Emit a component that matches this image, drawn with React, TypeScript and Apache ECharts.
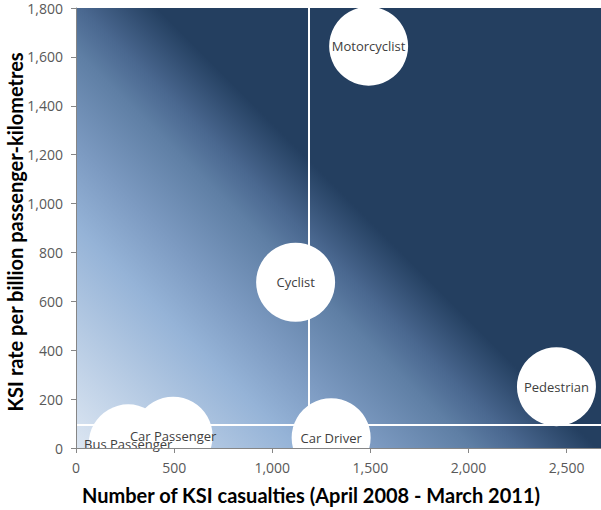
import React, { useEffect, useRef } from "react";
import * as echarts from "echarts";

// Road user groups: casualties (x) vs KSI rate (y)
const groups = ["Bus Passenger", "Car Passenger", "Car Driver", "Cyclist", "Motorcyclist", "Pedestrian"];
const casualties = [266, 495, 1300, 1119, 1491, 2448];
const ksiRate = [17, 48, 42, 678, 1644, 251];

// Quadrant dividers
const dividerX = 1185;
const dividerY = 94;

const xMin = 0;
const xMax = 2675;
const xStep = 500;
const xTicks = [0, 500, 1000, 1500, 2000, 2500];
const yMin = 0;
const yMax = 1800;
const yStep = 200;

const xTitle = "Number of KSI casualties (April 2008 - March 2011)";
const yTitle = "KSI rate per billion passenger-kilometres";

const TITLE_FONT = "Lato, 'Open Sans', sans-serif";
const FONT = "'Open Sans', Lato, sans-serif";

// plot rectangle in page pixels
const PLOT = { left: 76, top: 8, right: 601, bottom: 448 };

export default function App() {
  const ref = useRef<HTMLDivElement>(null);

  useEffect(() => {
    if (!ref.current) return;
    const chart = echarts.init(ref.current, undefined, { renderer: "svg" });
    const fmt = (v: number) => v.toLocaleString("en-US");

    // diagonal fill running at 45° from the bottom-left to the top-right corner
    const w = PLOT.right - PLOT.left;
    const h = PLOT.bottom - PLOT.top;
    const reach = (w + h) / 2;
    const bg = new echarts.graphic.LinearGradient(
      PLOT.left,
      PLOT.bottom,
      PLOT.left + reach,
      PLOT.bottom - reach,
      [
        { offset: 0, color: "#dce6f2" },
        { offset: 0.23, color: "#95b3d7" },
        { offset: 0.31, color: "#7d9bc2" },
        { offset: 0.41, color: "#5f7fa5" },
        { offset: 0.46, color: "#4a6890" },
        { offset: 0.54, color: "#243f60" },
        { offset: 1, color: "#243f60" },
      ],
      true
    );

    const titleStyle = {
      fontSize: 20,
      fontWeight: "bold",
      fill: "#000000",
      fontFamily: TITLE_FONT,
      textAlign: "center",
      textVerticalAlign: "middle",
    };

    chart.setOption({
      animation: false,
      textStyle: { fontFamily: FONT },
      grid: {
        left: PLOT.left,
        top: PLOT.top,
        right: 601 - PLOT.right,
        bottom: 510 - PLOT.bottom,
        outerBoundsMode: "none",
        containLabel: false,
        show: true,
        borderWidth: 0,
        backgroundColor: bg,
      },
      graphic: [
        { type: "text", x: 311, y: 495, style: { ...titleStyle, text: xTitle } },
        { type: "text", x: 15, y: 232, rotation: Math.PI / 2, style: { ...titleStyle, text: yTitle } },
      ],
      xAxis: {
        type: "value",
        z: 10,
        min: xMin,
        max: xMax,
        interval: xStep,
        axisLine: { show: true, lineStyle: { color: "#868686", width: 1 } },
        axisTick: { show: true, length: 5, customValues: xTicks, lineStyle: { color: "#868686" } },
        axisLabel: {
          customValues: xTicks,
          hideOverlap: false,
          margin: 12,
          fontSize: 14,
          color: "#595959",
          fontFamily: FONT,
          formatter: fmt,
        },
        splitLine: { show: false },
      },
      yAxis: {
        type: "value",
        z: 10,
        min: yMin,
        max: yMax,
        interval: yStep,
        axisLine: { show: true, lineStyle: { color: "#868686", width: 1 } },
        axisTick: { show: true, length: 5, lineStyle: { color: "#868686" } },
        axisLabel: {
          hideOverlap: false,
          margin: 13,
          fontSize: 14,
          color: "#595959",
          fontFamily: FONT,
          formatter: fmt,
        },
        splitLine: { show: false },
      },
      series: [
        {
          type: "scatter",
          symbol: "circle",
          symbolSize: 79,
          clip: true,
          itemStyle: { color: "#ffffff", opacity: 1 },
          label: {
            show: true,
            position: "inside",
            formatter: (p: any) => p.data[2],
            fontSize: 13,
            color: "#404040",
            fontFamily: FONT,
          },
          emphasis: { disabled: true },
          data: groups.map((g, i) => [casualties[i], ksiRate[i], g]),
          markLine: {
            silent: true,
            symbol: "none",
            label: { show: false },
            lineStyle: { color: "#ffffff", width: 2, type: "solid" },
            data: [{ xAxis: dividerX }, { yAxis: dividerY }],
            z: 1,
          },
        },
      ],
    });
    return () => chart.dispose();
  }, []);

  return (
    <div
      ref={ref}
      style={{ position: "fixed", left: 0, top: 0, width: 601, height: 510, background: "#fff" }}
    />
  );
}
